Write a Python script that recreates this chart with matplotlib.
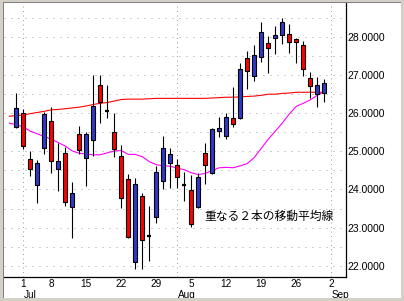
import matplotlib
matplotlib.use('Agg')
import matplotlib.pyplot as plt
from matplotlib.patches import Rectangle
from matplotlib.ticker import MultipleLocator
import matplotlib.transforms as mtransforms

# ---- data (trading-day index 0 = Jun 28) ----
opens  = [25.65, 26.00, 24.80, 24.11, 25.10, 25.80, 24.53, 24.95, 23.55, 25.45,
          24.82, 25.29, 26.74, 26.08, 25.51, 24.87, 24.27, 22.09, 23.83, 22.80,
          23.27, 24.21, 24.69, 24.63, 24.14, 23.98, 23.55, 24.95, 24.42, 25.53,
          25.40, 25.87, 25.88, 27.44, 26.98, 27.48, 27.84, 27.97, 28.04, 28.07,
          27.96, 27.78, 26.92, 26.50, 26.52]
highs  = [26.54, 26.10, 25.02, 24.77, 26.02, 26.17, 25.23, 25.11, 24.20, 25.67,
          25.51, 26.99, 27.00, 26.74, 26.01, 25.17, 24.41, 24.31, 23.90, 23.57,
          24.62, 25.40, 25.08, 24.80, 24.45, 24.38, 24.42, 25.21, 25.60, 25.91,
          26.01, 26.70, 27.31, 27.63, 27.79, 28.40, 28.03, 28.29, 28.49, 28.33,
          27.98, 27.90, 27.08, 26.96, 26.91]
lows   = [25.62, 25.05, 24.36, 23.65, 24.94, 24.42, 23.97, 23.57, 22.74, 24.92,
          24.09, 24.89, 25.74, 25.88, 24.86, 23.52, 22.74, 21.91, 21.91, 22.13,
          23.11, 24.02, 24.03, 24.03, 23.70, 23.02, 23.51, 24.14, 24.40, 25.38,
          25.32, 25.65, 25.85, 26.64, 26.85, 27.35, 27.05, 27.55, 27.81, 27.57,
          27.31, 26.98, 26.41, 26.16, 26.30]
closes = [26.13, 25.15, 24.53, 24.69, 25.98, 24.74, 24.75, 23.66, 23.90, 25.03,
          25.45, 26.18, 26.29, 26.06, 25.07, 23.77, 22.75, 24.14, 22.67, 22.78,
          24.46, 25.08, 24.92, 24.32, 24.12, 23.10, 24.32, 24.63, 25.58, 25.61,
          25.90, 25.71, 27.15, 27.12, 27.53, 28.12, 27.70, 28.05, 28.40, 27.88,
          27.86, 27.15, 26.71, 26.73, 26.79]

# moving averages, index -1 .. 44
ma_long  = [25.92, 25.94, 25.95, 25.99, 26.02, 26.05, 26.09, 26.10, 26.12, 26.14,
            26.16, 26.19, 26.23, 26.26, 26.28, 26.32, 26.36, 26.37, 26.37, 26.37,
            26.38, 26.39, 26.39, 26.39, 26.39, 26.39, 26.39, 26.39, 26.39, 26.40,
            26.41, 26.42, 26.42, 26.43, 26.44, 26.45, 26.47, 26.50, 26.50, 26.52,
            26.53, 26.55, 26.55, 26.55, 26.55, 26.55]
ma_short = [25.74, 25.70, 25.64, 25.53, 25.46, 25.39, 25.32, 25.23, 25.14, 25.01,
            24.95, 24.93, 24.91, 24.91, 24.96, 25.01, 25.02, 24.92, 24.92, 24.86,
            24.73, 24.65, 24.62, 24.61, 24.56, 24.52, 24.44, 24.39, 24.42, 24.50,
            24.57, 24.58, 24.57, 24.62, 24.68, 24.84, 25.08, 25.32, 25.53, 25.74,
            25.98, 26.18, 26.26, 26.35, 26.47, 26.57]

day_ticks = [1, 5, 10, 15, 20, 25, 30, 35, 40, 45]
day_labels = ['1', '8', '15', '22', '29', '5', '12', '19', '26', '2']
month_ticks = [1, 23, 45]
month_labels = ['Jul', 'Aug', 'Sep']
y_ticks = [22, 23, 24, 25, 26, 27, 28]
note = '重なる２本の移動平均線'

UP = '#3038c8'
DOWN = '#ff0000'

W, H = 404, 301
fig = plt.figure(figsize=(W / 100, H / 100), dpi=100)
fig.patch.set_facecolor('white')
ax = fig.add_axes([4 / W, (H - 277) / H, (345.5 - 4) / W, (277 - 2) / H])
ax.set_xlim(-1.757, 47.03)
ax.set_ylim(21.704, 28.918)

# grid
ax.yaxis.set_minor_locator(MultipleLocator(0.5))
ax.grid(which='both', axis='y', color='#a0a0a0', linestyle=(0, (1, 6)), linewidth=0.72, zorder=0)
for m in month_ticks:
    ax.axvline(m, color='#a0a0a0', linestyle=(0, (1, 3.5)), linewidth=0.72, zorder=0)

# moving averages
xs_ma = list(range(-1, len(ma_long) - 1))
ax.plot(xs_ma, ma_long, color='#ff0000', lw=0.8, zorder=2)
ax.plot(xs_ma, ma_short, color='#ff00ff', lw=0.8, zorder=2)

# candles
xs = list(range(len(opens)))
ax.vlines(xs, lows, highs, color='black', lw=0.8, zorder=3)
bw = 0.62
for x, o, c in zip(xs, opens, closes):
    if abs(c - o) < 0.04:
        ax.hlines((o + c) / 2, x - bw / 2, x + bw / 2, color='black', lw=1.6, zorder=4)
    else:
        ax.bar(x, abs(c - o), bottom=min(o, c), width=bw,
               color=UP if c > o else DOWN, edgecolor='black', linewidth=0.8, zorder=4)

# axes styling
for s in ['top', 'left']:
    ax.spines[s].set_visible(False)
for s in ['bottom', 'right']:
    ax.spines[s].set_color('black')
    ax.spines[s].set_linewidth(0.9)
    ax.spines[s].set_zorder(5)

font = 'Liberation Sans'
ax.yaxis.tick_right()
ax.set_yticks(y_ticks)
ax.set_yticklabels([f'{v:.4f}' for v in y_ticks], fontsize=7.5, family=font)
ax.set_xticks(day_ticks)
ax.set_xticklabels(day_labels, fontsize=7.2, family=font)
ax.tick_params(axis='both', which='both', length=0)
ax.tick_params(axis='y', pad=1.5)
ax.tick_params(axis='x', pad=1.2)

trans = mtransforms.blended_transform_factory(ax.transData, fig.transFigure)
for m, lab in zip(month_ticks, month_labels):
    ax.text(m + 0.05, (H - 295) / H, lab, transform=trans, ha='left', va='center',
            fontsize=7.2, family=font, clip_on=False)

ax.text(26.8, 23.30, note, fontsize=8.5, family=['Noto Sans CJK JP', 'DejaVu Sans'],
        ha='left', va='center', zorder=6)

# window frame
pix = mtransforms.IdentityTransform()
def prect(x, ytop, w, h, color):
    fig.add_artist(Rectangle((x, H - ytop - h), w, h, transform=pix,
                             facecolor=color, edgecolor='none', zorder=10))
prect(0, 0, W, 2, '#d4d0c8')
prect(0, H - 3, W, 3, '#d4d0c8')
prect(0, 0, 3, H, '#d4d0c8')
prect(W - 3, 0, 3, H, '#d4d0c8')
prect(3, 2, W - 6, 1, '#808080')
prect(3, 2, 1, H - 5, '#808080')

fig.savefig('out.png', dpi=100)
